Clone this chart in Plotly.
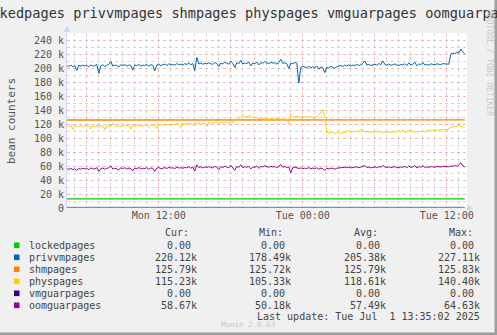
import pandas as pd
import plotly.graph_objects as go

# ---------------- data ----------------
start_time = "2025-06-30 04:20"
step = "10min"

privvmpages_k = [
    203.5, 202.1, 204.0, 201.8, 203.2, 196.5, 203.8, 202.5, 204.1, 202.9,
    203.6, 201.7, 204.4, 202.8, 203.1, 205.2, 192.3, 203.0, 204.6, 202.2,
    203.9, 205.1, 209.5, 202.7, 204.2, 203.5, 201.4, 204.8, 203.3, 205.0,
    202.6, 204.1, 203.8, 197.0, 204.5, 203.2, 205.3, 202.9, 204.0, 203.6,
    205.1, 202.4, 204.7, 203.9, 195.8, 204.3, 205.6, 203.1, 204.9, 205.4,
    203.8, 206.0, 204.5, 205.2, 203.9, 206.3, 204.8, 205.5, 204.1, 206.2,
    205.0, 207.1, 204.6, 206.4, 196.2, 215.0, 205.8, 207.0, 205.3, 206.8,
    205.9, 207.4, 206.1, 205.2, 207.8, 206.5, 202.0, 207.2, 206.0, 208.1,
    206.7, 205.4, 209.9, 206.3, 200.5, 207.5, 206.2, 211.0, 205.8, 207.3,
    206.4, 208.2, 203.0, 207.0, 206.1, 208.5, 204.3, 207.7, 206.8, 209.2,
    207.1, 206.3, 208.0, 206.9, 207.6, 205.8, 207.9, 212.3, 206.5, 207.4,
    206.2, 199.2, 207.0, 206.4, 207.8, 206.9, 178.5, 200.8, 202.3, 201.1,
    200.4, 202.6, 199.7, 201.9, 200.6, 202.8, 198.2, 201.5, 200.3, 193.4,
    201.2, 200.1, 202.4, 201.0, 199.6, 201.8, 202.5, 203.6, 202.2, 204.3,
    203.0, 204.6, 202.8, 204.1, 203.4, 205.2, 203.7, 204.4, 206.8, 210.0,
    204.2, 205.0, 203.6, 204.8, 205.5, 203.9, 206.4, 204.7, 210.2, 205.3,
    204.0, 205.6, 203.8, 204.9, 205.7, 204.3, 203.5, 205.0, 204.6, 206.1,
    203.4, 207.5, 204.2, 205.3, 208.3, 203.1, 205.8, 204.7, 207.9, 204.4,
    205.2, 204.0, 205.9, 205.1, 204.5, 206.0, 205.3, 204.8, 206.2, 205.7,
    206.1, 205.4, 219.6, 221.3, 220.4, 222.1, 221.5, 227.1, 222.8, 220.1,
]

physpages_k = [
    117.2, 115.8, 118.1, 112.4, 116.9, 117.5, 115.2, 118.3, 116.4, 117.8,
    116.1, 118.6, 113.0, 117.4, 116.2, 118.0, 115.5, 117.9, 116.7, 111.8,
    117.3, 118.5, 116.0, 120.8, 117.1, 116.4, 118.2, 115.7, 117.6, 116.8,
    118.4, 117.0, 112.6, 118.1, 116.5, 119.2, 117.3, 118.0, 116.1, 118.7,
    117.5, 115.3, 118.9, 117.4, 119.6, 113.5, 118.2, 119.0, 117.8, 120.4,
    118.6, 119.3, 117.7, 120.1, 118.9, 121.5, 119.2, 114.8, 120.3, 119.5,
    121.0, 119.8, 120.6, 118.4, 121.7, 120.2, 122.3, 119.6, 121.4, 120.7,
    116.5, 121.8, 120.9, 122.6, 121.1, 123.4, 120.5, 122.8, 121.6, 123.1,
    122.4, 121.2, 123.8, 122.5, 124.6, 126.3, 128.9, 130.7, 133.2, 131.0,
    129.5, 132.4, 130.1, 128.6, 130.8, 129.2, 127.4, 128.8, 127.6, 129.1,
    128.3, 126.9, 128.0, 127.2, 126.5, 128.4, 127.1, 126.6, 127.8, 126.3,
    127.0, 120.4, 133.6, 130.5, 129.8, 131.2, 130.0, 129.4, 130.8, 129.6,
    131.0, 129.3, 130.4, 128.9, 129.7, 130.6, 133.1, 135.4, 140.4, 131.5,
    108.2, 107.4, 108.5, 107.0, 106.2, 108.1, 107.5, 105.3, 108.4, 107.6,
    108.9, 110.8, 108.0, 109.2, 108.6, 110.1, 108.3, 112.2, 109.5, 108.7,
    109.0, 108.4, 109.3, 108.1, 109.6, 108.8, 110.2, 108.5, 107.9, 109.1,
    108.3, 109.4, 107.8, 108.6, 109.7, 108.2, 110.9, 108.4, 111.3, 109.0,
    108.1, 112.0, 108.9, 110.4, 107.6, 109.2, 108.7, 110.0, 109.3, 108.5,
    110.6, 111.5, 110.2, 111.8, 110.9, 111.4, 110.8, 111.9, 111.2, 112.0,
    111.4, 112.1, 116.0, 115.6, 116.8, 116.2, 118.4, 117.1, 116.5, 115.2,
]

oomguarpages_k = [
    56.2, 55.1, 56.8, 54.9, 56.0, 53.6, 56.5, 55.4, 56.9, 55.8,
    56.4, 54.8, 57.1, 55.7, 56.1, 57.6, 52.2, 56.0, 57.2, 55.3,
    56.7, 57.5, 60.3, 55.6, 56.9, 56.3, 54.7, 57.4, 56.2, 57.6,
    55.5, 56.9, 56.6, 53.1, 57.0, 56.0, 57.8, 55.8, 56.8, 56.4,
    57.5, 55.4, 57.2, 56.6, 52.5, 56.9, 57.9, 55.9, 57.3, 57.7,
    56.4, 58.1, 56.9, 57.5, 56.4, 58.3, 57.0, 57.7, 56.6, 58.2,
    57.2, 58.9, 56.9, 58.4, 52.8, 61.6, 57.8, 58.8, 57.4, 58.6,
    57.9, 59.1, 58.0, 57.2, 59.5, 58.3, 54.6, 59.0, 57.9, 59.8,
    58.4, 57.3, 61.2, 58.1, 53.9, 59.2, 58.0, 61.8, 57.6, 59.0,
    58.2, 59.7, 55.8, 58.8, 57.9, 60.1, 56.6, 59.3, 58.5, 60.4,
    58.8, 58.1, 59.6, 58.6, 59.2, 57.6, 59.5, 62.0, 58.3, 59.1,
    58.0, 58.6, 50.2, 57.9, 58.4, 57.2, 56.5, 57.3, 56.1, 57.0,
    56.4, 57.8, 55.9, 57.1, 56.2, 57.5, 55.4, 56.9, 56.0, 53.8,
    56.6, 55.9, 57.0, 56.3, 55.5, 56.8, 57.2, 57.9, 57.4, 58.3,
    57.6, 58.4, 57.3, 58.0, 57.7, 58.9, 57.5, 58.2, 59.4, 60.5,
    57.9, 58.5, 57.4, 58.3, 58.8, 57.6, 59.2, 58.1, 60.8, 58.6,
    57.8, 58.9, 57.5, 58.4, 59.0, 57.9, 57.3, 58.6, 58.2, 59.5,
    57.4, 60.2, 58.0, 58.7, 60.6, 57.2, 59.1, 58.3, 60.4, 58.1,
    58.7, 57.9, 59.3, 58.6, 58.2, 59.4, 58.8, 58.4, 59.6, 59.0,
    59.3, 58.8, 60.1, 59.4, 60.7, 59.6, 61.8, 64.6, 60.2, 58.7,
]

flat_times = ["2025-06-30 04:20", "2025-06-30 16:00", "2025-07-01 04:00", "2025-07-01 13:30"]
shmpages_k = [125.75, 125.79, 125.81, 125.79]
lockedpages_k = [12.9, 12.9, 12.9, 12.9]   # as drawn
vmguarpages_k = [0.0, 0.0, 0.0, 0.0]

series_names = ["lockedpages", "privvmpages", "shmpages", "physpages", "vmguarpages", "oomguarpages"]
series_colors = ["#00CC00", "#0066B3", "#FF8000", "#FFCC00", "#330099", "#990099"]
cur_vals = ["0.00", "220.12k", "125.79k", "115.23k", "0.00", "58.67k"]
min_vals = ["0.00", "178.49k", "125.72k", "105.33k", "0.00", "50.18k"]
avg_vals = ["0.00", "205.38k", "125.79k", "118.61k", "0.00", "57.49k"]
max_vals = ["0.00", "227.11k", "125.83k", "140.40k", "0.00", "64.63k"]

y_tick_vals = [0, 20000, 40000, 60000, 80000, 100000, 120000, 140000, 160000, 180000, 200000, 220000, 240000]
y_tick_text = ["0", "20 k", "40 k", "60 k", "80 k", "100 k", "120 k", "140 k", "160 k", "180 k", "200 k", "220 k", "240 k"]
x_tick_vals = ["2025-06-30 06:00", "2025-06-30 12:00", "2025-06-30 18:00",
               "2025-07-01 00:00", "2025-07-01 06:00", "2025-07-01 12:00"]
x_tick_text = ["", "Mon 12:00", "", "Tue 00:00", "", "Tue 12:00"]
x_range = ["2025-06-30 04:21", "2025-07-01 13:41"]

title_text = "lockedpages privvmpages shmpages physpages vmguarpages oomguarpages"
last_update = "Last update: Tue Jul\u00a0\u00a01 13:35:02 2025"

# ---------------- figure ----------------
W, H = 497, 335
L, R, T, B = 67, 30, 33, 127
PW, PH = W - L - R, H - T - B
FONT = "DejaVu Sans Mono"


def px(xp):
    return (xp - L) / PW


def py(yp):
    return (H - B - yp) / PH


times = pd.date_range(start_time, periods=len(privvmpages_k), freq=step)

fig = go.Figure()


def add_line(x, vals_k, color, width=1, opacity=1.0):
    fig.add_trace(go.Scatter(
        x=x, y=[v * 1000 for v in vals_k], mode="lines",
        line=dict(color=color, width=width), opacity=opacity,
        hoverinfo="skip", showlegend=False))


add_line(flat_times, lockedpages_k, series_colors[0], width=1.2)
add_line(times, privvmpages_k, series_colors[1])
add_line(flat_times, shmpages_k, series_colors[2], width=1.3)
add_line(times, physpages_k, series_colors[3])
add_line(flat_times, vmguarpages_k, series_colors[4], width=2.4, opacity=0.5)
add_line(times, oomguarpages_k, series_colors[5])

grid_major = "#F6B4B4"
grid_minor = "#D6D6D6"
tick_font = dict(family=FONT, size=10, color="#555555")

fig.update_layout(
    width=W, height=H,
    margin=dict(l=L, r=R, t=T, b=B),
    paper_bgcolor="#F0F0F0", plot_bgcolor="#FFFFFF",
    showlegend=False,
    xaxis=dict(
        type="date", range=x_range,
        tickmode="array", tickvals=x_tick_vals, ticktext=x_tick_text,
        tickfont=tick_font, ticks="", showline=False, zeroline=False,
        showgrid=True, gridcolor=grid_major, griddash="dot", gridwidth=1,
        minor=dict(dtick=3600000, tick0="2025-06-30 00:00", showgrid=True,
                   gridcolor=grid_minor, griddash="dot", gridwidth=1, ticks=""),
        fixedrange=True,
    ),
    yaxis=dict(
        range=[0, 250000],
        tickmode="array", tickvals=y_tick_vals, ticktext=y_tick_text,
        tickfont=tick_font, ticks="", zeroline=False,
        showline=True, linecolor="#D4D4F6", linewidth=1,
        showgrid=True, gridcolor=grid_major, griddash="dot", gridwidth=1,
        minor=dict(dtick=10000, tick0=0, showgrid=True,
                   gridcolor=grid_minor, griddash="dot", gridwidth=1, ticks=""),
        fixedrange=True,
    ),
)

ann = []
# title
ann.append(dict(text=title_text, x=px(249), y=py(13), xref="paper", yref="paper",
                xanchor="center", yanchor="middle", showarrow=False,
                font=dict(family=FONT, size=13.6, color="#333333")))
# y-axis label
ann.append(dict(text="bean counters", x=px(11), y=py(121), xref="paper", yref="paper",
                xanchor="center", yanchor="middle", showarrow=False, textangle=-90,
                font=dict(family=FONT, size=11, color="#555555")))
# rrdtool credit
ann.append(dict(text="RRDTOOL / TOBI OETIKER", x=px(489), y=py(63), xref="paper", yref="paper",
                xanchor="center", yanchor="middle", showarrow=False, textangle=90,
                font=dict(family=FONT, size=8, color="#C8C8C8")))

# legend table
legend_font = dict(family=FONT, size=10, color="#444444")
header_y = 232.5
row_y0, row_dy = 245.3, 12
col_right = [199, 293, 388, 482]
headers = ["Cur:", "Min:", "Avg:", "Max:"]
header_left = [163, 257, 352, 447]
for h, xl in zip(headers, header_left):
    ann.append(dict(text=h, x=px(xl), y=py(header_y), xref="paper", yref="paper",
                    xanchor="left", yanchor="middle", showarrow=False, font=legend_font))

shapes = []
columns = [cur_vals, min_vals, avg_vals, max_vals]
for i, name in enumerate(series_names):
    yc = row_y0 + i * row_dy
    shapes.append(dict(type="rect", xref="paper", yref="paper",
                       x0=px(14), x1=px(19.5), y0=py(yc - 2.8), y1=py(yc + 2.8),
                       fillcolor=series_colors[i], line=dict(width=0)))
    ann.append(dict(text=name, x=px(26.5), y=py(yc), xref="paper", yref="paper",
                    xanchor="left", yanchor="middle", showarrow=False, font=legend_font))
    for col, xr in zip(columns, col_right):
        v = col[i]
        if not v.endswith("k"):
            v = v + "\u00a0"
        ann.append(dict(text=v, x=px(xr), y=py(yc), xref="paper", yref="paper",
                        xanchor="right", yanchor="middle", showarrow=False, font=legend_font))

ann.append(dict(text=last_update, x=px(482), y=py(316.5), xref="paper", yref="paper",
                xanchor="right", yanchor="middle", showarrow=False, font=legend_font))
ann.append(dict(text="Munin 2.0.63", x=px(248), y=py(324.5), xref="paper", yref="paper",
                xanchor="center", yanchor="middle", showarrow=False,
                font=dict(family=FONT, size=7.5, color="#C8C8C8")))

# axis arrows
shapes.append(dict(type="path", xref="paper", yref="paper",
                   path=f"M {px(63.5)} {py(32)} L {px(70.5)} {py(32)} L {px(67)} {py(25.5)} Z",
                   fillcolor="#D4D4F6", line=dict(width=0)))
shapes.append(dict(type="path", xref="paper", yref="paper",
                   path=f"M {px(467)} {py(204.5)} L {px(467)} {py(211.5)} L {px(473.5)} {py(208)} Z",
                   fillcolor="#D4D4F6", line=dict(width=0)))
# image frame (right and bottom darker edge)
shapes.append(dict(type="rect", xref="paper", yref="paper",
                   x0=px(494.5), x1=px(498), y0=py(-1), y1=py(336),
                   fillcolor="#9E9E9E", line=dict(width=0), layer="above"))
shapes.append(dict(type="rect", xref="paper", yref="paper",
                   x0=px(-1), x1=px(498), y0=py(332.5), y1=py(336),
                   fillcolor="#9E9E9E", line=dict(width=0), layer="above"))

fig.update_layout(annotations=ann, shapes=shapes)

fig.write_html("out.html", config={"displayModeBar": False})
